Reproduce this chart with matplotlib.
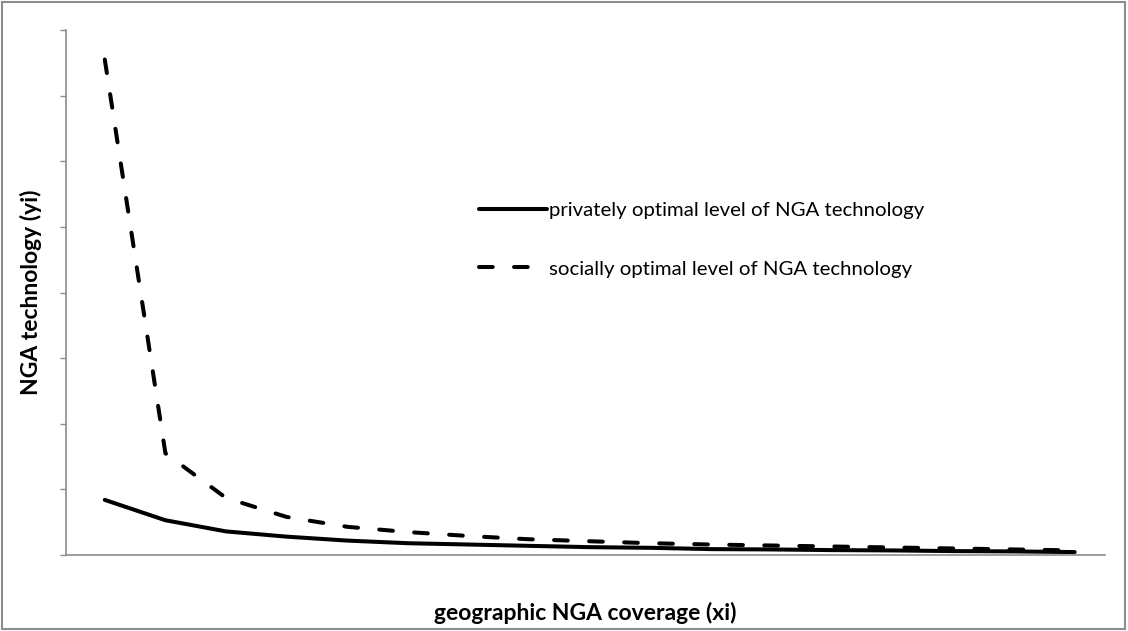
import matplotlib
matplotlib.use("Agg")
import matplotlib.pyplot as plt
from matplotlib.patches import Rectangle

plt.rcParams['font.family'] = ['Lato', 'DejaVu Sans']

# values (one y tick = 1 unit, no labels on the axes)
coverage = list(range(17))
private_opt = [0.84, 0.53, 0.36, 0.28, 0.22, 0.18, 0.16, 0.14, 0.12,
               0.11, 0.09, 0.085, 0.075, 0.07, 0.06, 0.055, 0.045]
social_opt = [7.55, 1.55, 0.87, 0.58, 0.43, 0.35, 0.29, 0.24, 0.21,
              0.18, 0.16, 0.145, 0.13, 0.115, 0.10, 0.085, 0.07]
series_names = ['privately optimal level of NGA technology',
                'socially optimal level of NGA technology']

grey = '#8c8c8c'

fig = plt.figure(figsize=(11.28, 6.31), dpi=100)
ax = fig.add_axes([0.0585, 0.1204, 0.9211, 0.8321])

ax.plot(coverage, private_opt, color='black', lw=2.9,
        solid_capstyle='round', solid_joinstyle='round', label=series_names[0])
ax.plot(coverage, social_opt, color='black', lw=2.9, dashes=(3.4, 5.3),
        dash_capstyle='round', dash_joinstyle='round', label=series_names[1])

ax.set_xlim(-0.64, 16.5)
ax.set_ylim(0, 8)
ax.set_yticks(range(9))
ax.set_yticklabels([])
ax.set_xticks([])
ax.tick_params(axis='y', length=4.5, width=1, color=grey, direction='out')
for side in ['top', 'right']:
    ax.spines[side].set_visible(False)
for side in ['left', 'bottom']:
    ax.spines[side].set_color(grey)
    ax.spines[side].set_linewidth(1.2)

ax.set_ylabel('NGA technology (yi)', fontsize=16.5, fontweight='bold', labelpad=9)
ax.set_xlabel('geographic NGA coverage (xi)', fontsize=16.5, fontweight='bold', labelpad=34)

ax.legend(loc='upper left', bbox_to_anchor=(0.38, 0.707), frameon=False,
          fontsize=14.7, handlelength=3.3, handletextpad=0.1, labelspacing=2.0)

# outer chart border
fig.patches.append(Rectangle((0.002, 0.003), 0.995, 0.994, transform=fig.transFigure,
                             fill=False, ec=grey, lw=1.5))

fig.savefig('out.png', dpi=100)
